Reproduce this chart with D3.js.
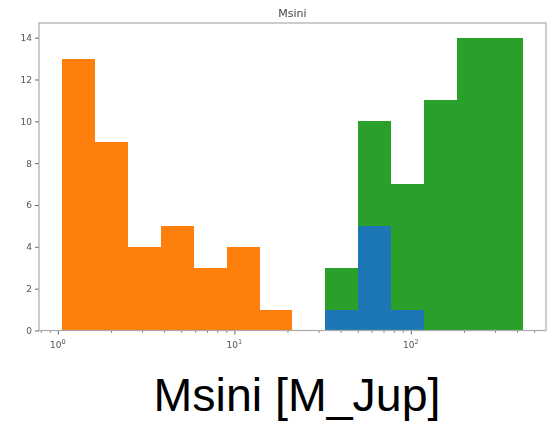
<!DOCTYPE html>
<html>
<head>
<meta charset="utf-8">
<script src="https://cdn.jsdelivr.net/npm/d3@7"></script>
<style>
  html, body { margin: 0; padding: 0; background: #fff; }
  svg { display: block; }
</style>
</head>
<body>
<svg id="chart" width="555" height="422"></svg>
<script>
// Logarithmic bin edges shared by all three histograms (M_Jup)
const binEdges = [1.056, 1.622, 2.492, 3.830, 5.884, 9.042, 13.89, 21.35,
                  32.80, 50.40, 77.43, 118.97, 182.8, 280.9, 431.7];

// Counts per bin for each sample
const greenCounts  = [0, 0, 0, 0, 0, 0, 0, 0, 3, 10, 7, 11, 14, 14];
const orangeCounts = [13, 9, 4, 5, 3, 4, 1, 0, 0, 0, 0, 0, 0, 0];
const blueCounts   = [0, 0, 0, 0, 0, 0, 0, 0, 1, 5, 1, 0, 0, 0];

const yTicks = [0, 2, 4, 6, 8, 10, 12, 14];
const xMajorTicks = [1, 10, 100];
const titleText = "Msini";
const xLabelText = "Msini [M_Jup]";

const svg = d3.select("#chart");
const W = 555, H = 422;
const plot = { left: 39, right: 546, top: 23, bottom: 330.5 };

svg.append("rect").attr("width", W).attr("height", H).attr("fill", "#fff");

// slight softening of the plotted figure
const defs = svg.append("defs");
defs.append("filter").attr("id", "soft")
  .attr("x", "-5%").attr("y", "-5%").attr("width", "110%").attr("height", "110%")
  .append("feGaussianBlur").attr("stdDeviation", 0.45);

const lo = Math.log10(binEdges[0]), hi = Math.log10(binEdges[binEdges.length - 1]);
const pad = (hi - lo) * 0.05;
const x = d3.scaleLog()
  .domain([Math.pow(10, lo - pad), Math.pow(10, hi + pad)])
  .range([plot.left, plot.right]);
const y = d3.scaleLinear()
  .domain([0, 14 * 1.05])
  .range([plot.bottom, plot.top]);

const g = svg.append("g").attr("filter", "url(#soft)");

function drawHist(counts, color) {
  const bins = counts.map((c, i) => ({ x0: binEdges[i], x1: binEdges[i + 1], c }))
    .filter(d => d.c > 0);
  g.append("g").selectAll("rect").data(bins).join("rect")
    .attr("x", d => x(d.x0))
    .attr("width", d => x(d.x1) - x(d.x0))
    .attr("y", d => y(d.c))
    .attr("height", d => y(0) - y(d.c))
    .attr("fill", color)
    .attr("shape-rendering", "crispEdges");
}
drawHist(greenCounts, "#2ca02c");
drawHist(orangeCounts, "#ff7f0e");
drawHist(blueCounts, "#1f77b4");

// axes
const tickColor = "#666";
const labelColor = "#555";
const font = "'DejaVu Sans', sans-serif";

const yAxis = d3.axisLeft(y).tickValues(yTicks).tickSize(4).tickPadding(3)
  .tickFormat(d3.format("d"));
const yG = g.append("g").attr("transform", `translate(${plot.left},0)`).call(yAxis);
yG.select(".domain").remove();
yG.selectAll("line").attr("stroke", tickColor);
yG.selectAll("text").attr("fill", labelColor).attr("font-family", font).attr("font-size", 9);

// minor ticks on the log axis
const [d0, d1] = x.domain();
const minor = [];
for (let e = -1; e <= 3; e++) {
  for (let m = 2; m <= 9; m++) {
    const v = m * Math.pow(10, e);
    if (v >= d0 && v <= d1) minor.push(v);
  }
}
const xMinor = d3.axisBottom(x).tickValues(minor).tickSize(2).tickFormat("");
const xmG = g.append("g").attr("transform", `translate(0,${plot.bottom})`).call(xMinor);
xmG.select(".domain").remove();
xmG.selectAll("line").attr("stroke", tickColor);

const xAxis = d3.axisBottom(x).tickValues(xMajorTicks).tickSize(4).tickPadding(3)
  .tickFormat("");
const xG = g.append("g").attr("transform", `translate(0,${plot.bottom})`).call(xAxis);
xG.select(".domain").remove();
xG.selectAll("line").attr("stroke", tickColor);

// 10^n tick labels
xMajorTicks.forEach(v => {
  const t = g.append("text")
    .attr("x", x(v)).attr("y", plot.bottom + 17)
    .attr("text-anchor", "middle")
    .attr("fill", labelColor).attr("font-family", font).attr("font-size", 9);
  t.append("tspan").text("10");
  t.append("tspan").attr("dy", -4).attr("font-size", 6.5).text(Math.round(Math.log10(v)));
});

// frame
g.append("rect")
  .attr("x", plot.left).attr("y", plot.top)
  .attr("width", plot.right - plot.left).attr("height", plot.bottom - plot.top)
  .attr("fill", "none").attr("stroke", "#aaa").attr("stroke-width", 1.2);

// title
g.append("text")
  .attr("x", (plot.left + plot.right) / 2).attr("y", 17)
  .attr("text-anchor", "middle")
  .attr("fill", "#444").attr("font-family", font).attr("font-size", 11)
  .text(titleText);

// x label
svg.append("text")
  .attr("x", 297).attr("y", 411)
  .attr("text-anchor", "middle")
  .attr("fill", "#000").attr("font-family", "'Liberation Sans', Arial, sans-serif")
  .attr("font-size", 46.5)
  .text(xLabelText);
</script>
</body>
</html>
